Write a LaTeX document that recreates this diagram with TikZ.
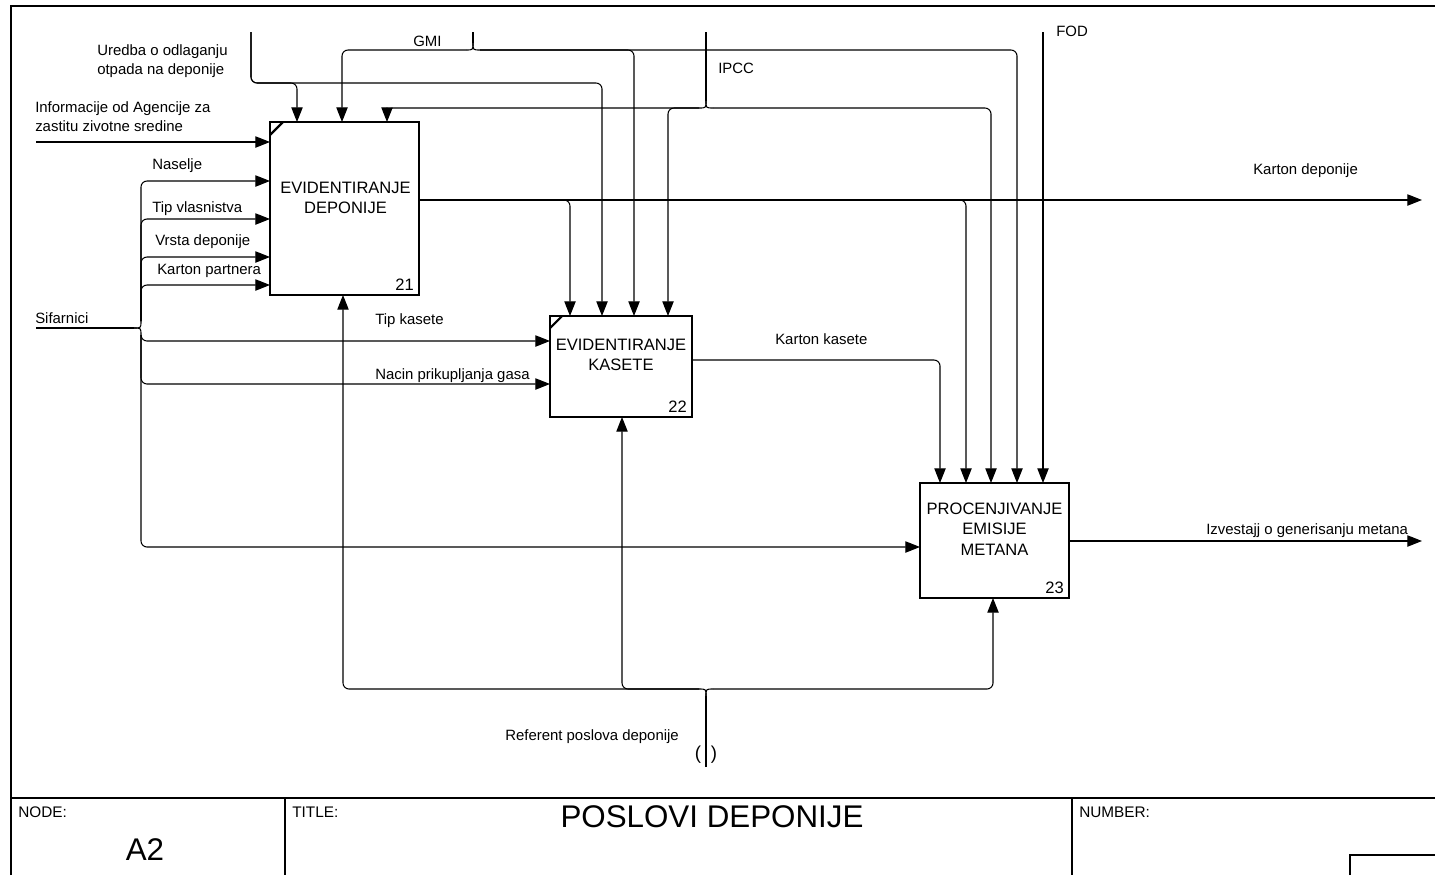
\documentclass[tikz,border=0pt]{standalone}
\usepackage{fontspec}
\setmainfont{Liberation Sans}
\usetikzlibrary{arrows.meta,calc}
\begin{document}
\begin{tikzpicture}[x=0.75pt,y=-0.75pt,
  flow/.style={line width=0.8pt, rounded corners=4.5pt, -{Triangle[length=11pt,width=8.5pt]}},
  plain/.style={line width=0.8pt, rounded corners=4.5pt},
  pbox/.style={draw, line width=2pt, rectangle, outer sep=0pt, inner sep=0pt},
  tick/.style={line width=1.6pt},
  btext/.style={align=center, font=\fontsize{12.4}{15.5}\selectfont, inner sep=0pt},
  num/.style={font=\fontsize{12.4}{14}\selectfont, inner sep=0pt},
  lbl/.style={font=\fontsize{11.2}{14}\selectfont, inner sep=0pt, align=left},
  frameline/.style={line width=1.2pt},
  ftext/.style={font=\fontsize{11.5}{14}\selectfont, inner sep=0pt},
  big/.style={font=\fontsize{23.5}{27}\selectfont, inner sep=0pt},
  paren/.style={font=\fontsize{14}{16}\selectfont, inner sep=0pt}]

\useasboundingbox (0,0) rectangle (1435,875);

% frame
\draw[frameline] (11,875) -- (11,6) -- (1435,6);
\draw[frameline] (11,798) -- (1435,798);
\draw[frameline] (285,798) -- (285,875);
\draw[frameline] (1072,798) -- (1072,875);
\draw[frameline] (1350,875) -- (1350,855) -- (1435,855);
\node[ftext, anchor=north west] (tnode) at (18,807) {NODE:};
\node[ftext, anchor=north west] (ttitle) at (292,807) {TITLE:};
\node[ftext, anchor=north west] (tnumber) at (1079,807) {NUMBER:};
\node[big] (ta2) at (145,850) {A2};
\node[big] (tmain) at (712,817) {POSLOVI DEPONIJE};

% boxes
\node[pbox, minimum width=111.75pt, minimum height=129.75pt] (b21) at (344.5,208.5) {};
\node[pbox, minimum width=106.5pt, minimum height=75.75pt] (b22) at (621,366.5) {};
\node[pbox, minimum width=111.75pt, minimum height=86.25pt] (b23) at (994.5,540.5) {};
\node[btext] (t21) at (345.5,198) {EVIDENTIRANJE\\DEPONIJE};
\node[btext] (t22) at (621,355) {EVIDENTIRANJE\\KASETE};
\node[btext] (t23) at (994.5,529) {PROCENJIVANJE\\EMISIJE\\METANA};
\node[num, anchor=south east] (n21) at ($(b21.south east)+(-5,-4)$) {21};
\node[num, anchor=south east] (n22) at ($(b22.south east)+(-5,-4)$) {22};
\node[num, anchor=south east] (n23) at ($(b23.south east)+(-5,-4)$) {23};
\draw[tick] ($(b21.north west)+(0,13)$) -- ($(b21.north west)+(13,0)$);
\draw[tick] ($(b22.north west)+(0,12)$) -- ($(b22.north west)+(12,0)$);

% free ends and brace points
\coordinate (uredbaTop) at (251,32);
\coordinate (gmiTop) at (473,32);
\coordinate (gmiJ) at (473,43);
\coordinate (gmiL) at (466,50);
\coordinate (gmiR) at (480,50);
\coordinate (ipccTop) at (706,32);
\coordinate (ipccJ) at (706,101);
\coordinate (ipccL) at (699,108);
\coordinate (ipccR) at (713,108);
\coordinate (fodTop) at (1043,32);
\coordinate (infoIn) at (36,142);
\coordinate (sifIn) at (36,328);
\coordinate (sifJ) at (134,328);
\coordinate (sifU) at (141,321);
\coordinate (sifD) at (141,335);
\coordinate (refBot) at (706,767);
\coordinate (refJ) at (706,696);
\coordinate (refL) at (699,689);
\coordinate (refR) at (713,689);
\coordinate (kdOut) at (1422,200);
\coordinate (izOut) at (1422,541);

% Uredba
\draw[flow] (uredbaTop) |- (297,83) -- (b21.north -| 297,0);
\draw[flow] (uredbaTop) |- (602,83) -- (b22.north -| 602,0);
% GMI
\draw[plain] (gmiTop) -- (gmiJ);
\draw[plain] (gmiJ) .. controls (473,50) .. (gmiL);
\draw[plain] (gmiJ) .. controls (473,50) .. (gmiR);
\draw[flow] (gmiL) -- (342,50) -- (b21.north -| 342,0);
\draw[flow] (gmiR) -- (634,50) -- (b22.north -| 634,0);
\draw[flow] (gmiR) -- (1017,50) -- (b23.north -| 1017,0);
% IPCC
\draw[plain] (ipccTop) -- (ipccJ);
\draw[plain] (ipccJ) .. controls (706,108) .. (ipccL);
\draw[plain] (ipccJ) .. controls (706,108) .. (ipccR);
\draw[flow] (ipccL) -- (387,108) -- (b21.north -| 387,0);
\draw[flow] (ipccL) -- (668,108) -- (b22.north -| 668,0);
\draw[flow] (ipccR) -- (991,108) -- (b23.north -| 991,0);
% FOD
\draw[flow] (fodTop) -- (b23.north -| fodTop);
% Informacije
\draw[flow] (infoIn) -- (b21.west |- infoIn);
% Sifarnici
\draw[plain] (sifIn) -- (sifJ);
\draw[plain] (sifJ) .. controls (141,328) .. (sifU);
\draw[plain] (sifJ) .. controls (141,328) .. (sifD);
\draw[flow] (sifU) |- (b21.west |- 0,181);
\draw[flow] (sifU) |- (b21.west |- 0,219);
\draw[flow] (sifU) |- (b21.west |- 0,257);
\draw[flow] (sifU) |- (b21.west |- 0,285);
\draw[flow] (sifD) |- (b22.west |- 0,341);
\draw[flow] (sifD) |- (b22.west |- 0,384);
\draw[flow] (sifD) |- (b23.west |- 0,547);
% Karton deponije
\draw[flow] (b21.east |- 0,200) -- (kdOut);
\draw[flow] (b21.east |- 0,200) -- (570,200) -- (b22.north -| 570,0);
\draw[flow] (b21.east |- 0,200) -- (966,200) -- (b23.north -| 966,0);
% Karton kasete
\draw[flow] (b22.east |- 0,360) -- (940,360) -- (b23.north -| 940,0);
% Izvestaj
\draw[flow] (b23.east |- 0,541) -- (izOut);
% Referent
\draw[plain] (refBot) -- (refJ);
\draw[plain] (refJ) .. controls (706,689) .. (refL);
\draw[plain] (refJ) .. controls (706,689) .. (refR);
\draw[flow] (refL) -- (343,689) -- (b21.south -| 343,0);
\draw[flow] (refL) -- (622,689) -- (b22.south -| 622,0);
\draw[flow] (refR) -- (993,689) -- (b23.south -| 993,0);

% labels
\node[lbl, anchor=west] (lUredba) at (97,61) {Uredba o odlaganju\\otpada na deponije};
\node[lbl, anchor=west] (lInfo) at (35,116.5) {Informacije od Agencije za\\zastitu zivotne sredine};
\node[lbl, anchor=west] (lSif) at (35,318) {Sifarnici};
\node[lbl, anchor=west] (lNas) at (152,166) {Naselje};
\node[lbl, anchor=west] (lTipV) at (152,209) {Tip vlasnistva};
\node[lbl, anchor=west] (lVrsta) at (155,242) {Vrsta deponije};
\node[lbl, anchor=west] (lKP) at (157,271) {Karton partnera};
\node[lbl, anchor=west] (lTipK) at (375,321) {Tip kasete};
\node[lbl, anchor=west] (lNacin) at (375,376) {Nacin prikupljanja gasa};
\node[lbl, anchor=west] (lKK) at (775,339) {Karton kasete};
\node[lbl, anchor=west] (lKD) at (1253,171) {Karton deponije};
\node[lbl, anchor=west] (lIz) at (1206,531) {Izvestajj o generisanju metana};
\node[lbl, anchor=west] (lGMI) at (413,41) {GMI};
\node[lbl, anchor=west] (lIPCC) at (718,68) {IPCC};
\node[lbl, anchor=west] (lFOD) at (1056,31) {FOD};
\node[lbl, anchor=west] (lRef) at (505,737) {Referent poslova deponije};
\node[paren] (pl) at (698,755) {(};
\node[paren] (pr) at (714,755) {)};
\end{tikzpicture}
\end{document}
